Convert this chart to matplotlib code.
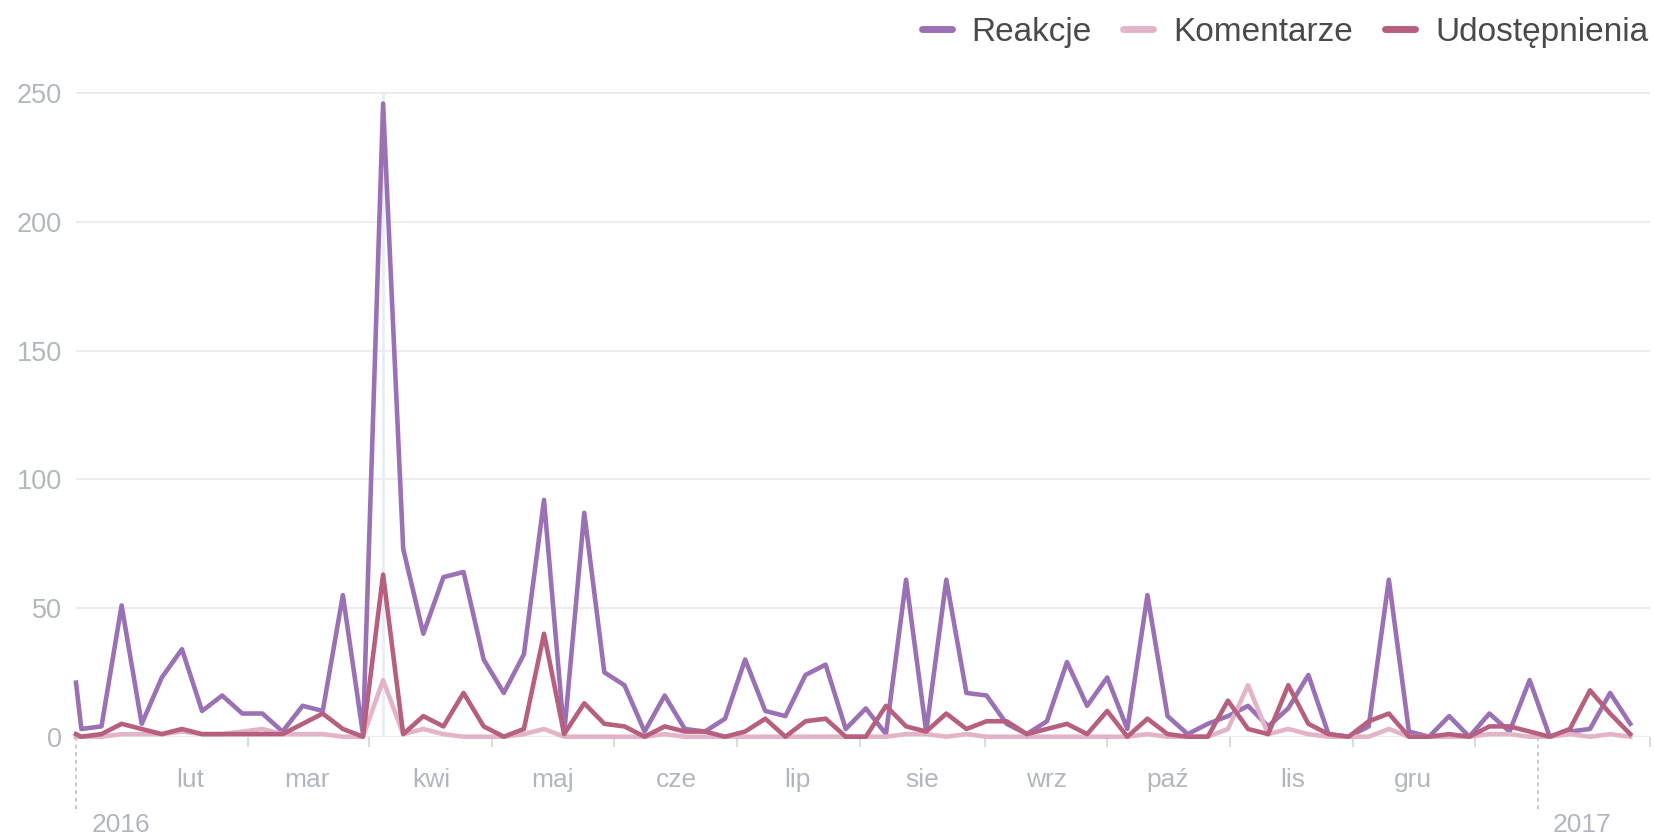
import numpy as np
import pandas as pd
import matplotlib
matplotlib.use("Agg")
import matplotlib.pyplot as plt
import matplotlib.dates as mdates
from matplotlib.lines import Line2D

plt.rcParams['font.family'] = ['Liberation Sans', 'DejaVu Sans']

# values, one point every 5 days; the first value is where
# the line enters at the left edge of the plot
series_names = ["Reakcje", "Komentarze", "Udostępnienia"]
reakcje = [21,
           3, 4, 51, 5, 23, 34, 10, 16, 9, 9, 2, 12, 10, 55, 1,
           246,
           73, 40, 62, 64, 30, 17, 32, 92, 1, 87, 25, 20, 2, 16, 3,
           2, 7, 30, 10, 8, 24, 28, 3, 11, 1, 61, 2, 61, 17, 16, 5,
           1, 6, 29, 12, 23, 3, 55, 8, 1, 5, 8, 12, 4, 11, 24,
           1, 0, 4, 61, 2, 0, 8, 0, 9, 2, 22, 0, 2, 3, 17, 5]
komentarze = [0,
              0, 0, 1, 1, 1, 2, 1, 1, 2, 3, 1, 1, 1, 0, 0,
              22,
              1, 3, 1, 0, 0, 0, 1, 3, 0, 0, 0, 0, 0, 1, 0,
              0, 0, 0, 0, 0, 0, 0, 0, 0, 0, 1, 1, 0, 1, 0, 0,
              0, 0, 0, 0, 0, 0, 1, 0, 0, 0, 3, 20, 1, 3, 1,
              0, 0, 0, 3, 0, 0, 0, 0, 1, 1, 0, 0, 1, 0, 1, 0]
udostepnienia = [1,
                 0, 1, 5, 3, 1, 3, 1, 1, 1, 1, 1, 5, 9, 3, 0,
                 63,
                 1, 8, 4, 17, 4, 0, 3, 40, 1, 13, 5, 4, 0, 4, 2,
                 2, 0, 2, 7, 0, 6, 7, 0, 0, 12, 4, 2, 9, 3, 6, 6,
                 1, 3, 5, 1, 10, 0, 7, 1, 0, 0, 14, 3, 1, 20, 5,
                 1, 0, 6, 9, 0, 0, 1, 0, 4, 4, 2, 0, 3, 18, 9, 1]

x_start = pd.Timestamp("2016-01-03 16:00")
x_end = pd.Timestamp("2017-01-28 22:00")
dates = [x_start] + list(pd.date_range("2016-01-05", periods=len(reakcje) - 1, freq="5D"))

month_labels = ["lut", "mar", "kwi", "maj", "cze", "lip", "sie", "wrz", "paź", "lis", "gru"]
month_starts = pd.date_range("2016-02-01", periods=11, freq="MS")
year_labels = ["2016", "2017"]
year_starts = pd.to_datetime(["2016-01-01", "2017-01-01"])
y_ticks = [0, 50, 100, 150, 200, 250]

colors = ["#9b71b5", "#e3b4c7", "#b75f7e"]
label_gray = "#b1b6bf"

W, H = 1654, 838
fig = plt.figure(figsize=(W / 100, H / 100), dpi=100)
base_px, top_px = 736.7, 83
ax = fig.add_axes([76 / W, 1 - base_px / H, (1650 - 76) / W, (base_px - top_px) / H])

for vals, c, name in zip([reakcje, komentarze, udostepnienia], colors, series_names):
    ax.plot(dates, vals, color=c, lw=3.3, label=name, clip_on=False, zorder=3,
            solid_joinstyle="round")

# hover marker at the biggest peak
peak_date = dates[int(np.argmax(reakcje))]
ax.axvline(peak_date, ymax=250 / 254, color="#e8edf5", lw=2, zorder=1)

ax.set_xlim(x_start, x_end)
ax.set_ylim(0, 254)
ax.set_yticks(y_ticks)
ax.tick_params(axis="y", length=0, pad=10, labelsize=19.5, labelcolor=label_gray)
ax.yaxis.grid(True, color="#ececec", lw=1.5)
ax.set_axisbelow(True)
for s in ax.spines.values():
    s.set_visible(False)

# small ticks sit halfway between month starts, plus one at the axis end
bounds = mdates.date2num(list(month_starts) + [year_starts[1]])
tick_pos = list((bounds[:-1] + bounds[1:]) / 2) + [mdates.date2num(x_end)]
ax.set_xticks(tick_pos)
ax.set_xticklabels([])
ax.tick_params(axis="x", length=7, width=1.5, color="#d8dbe0")

xform = ax.get_xaxis_transform()
for d, lbl in zip(mdates.date2num(month_starts), month_labels):
    ax.annotate(lbl, xy=(d, 0), xycoords=xform, xytext=(0, -31.2), textcoords="offset points",
                ha="center", va="center", fontsize=19, color=label_gray)
for d, lbl in zip(year_starts, year_labels):
    d = mdates.date2num(max(d, x_start))
    ax.plot([d, d], [0, -76.6 / (base_px - top_px)], transform=xform, clip_on=False,
            color="#c3c7ce", lw=1.3, ls=(0, (2.2, 2)))
    ax.annotate(lbl, xy=(d, 0), xycoords=xform, xytext=(11, -63.6), textcoords="offset points",
                ha="left", va="center", fontsize=19, color=label_gray)

handles = [Line2D([], [], color=c, lw=5, solid_capstyle="round") for c in colors]
fig.legend(handles, series_names, loc="upper right", bbox_to_anchor=(1648 / W, 1 - 17 / H),
           ncol=3, frameon=False, fontsize=24, handlelength=0.9, handletextpad=0.6,
           columnspacing=0.95, borderpad=0, borderaxespad=0, labelcolor="#4a4a4a")

fig.savefig("out.png", dpi=100)
